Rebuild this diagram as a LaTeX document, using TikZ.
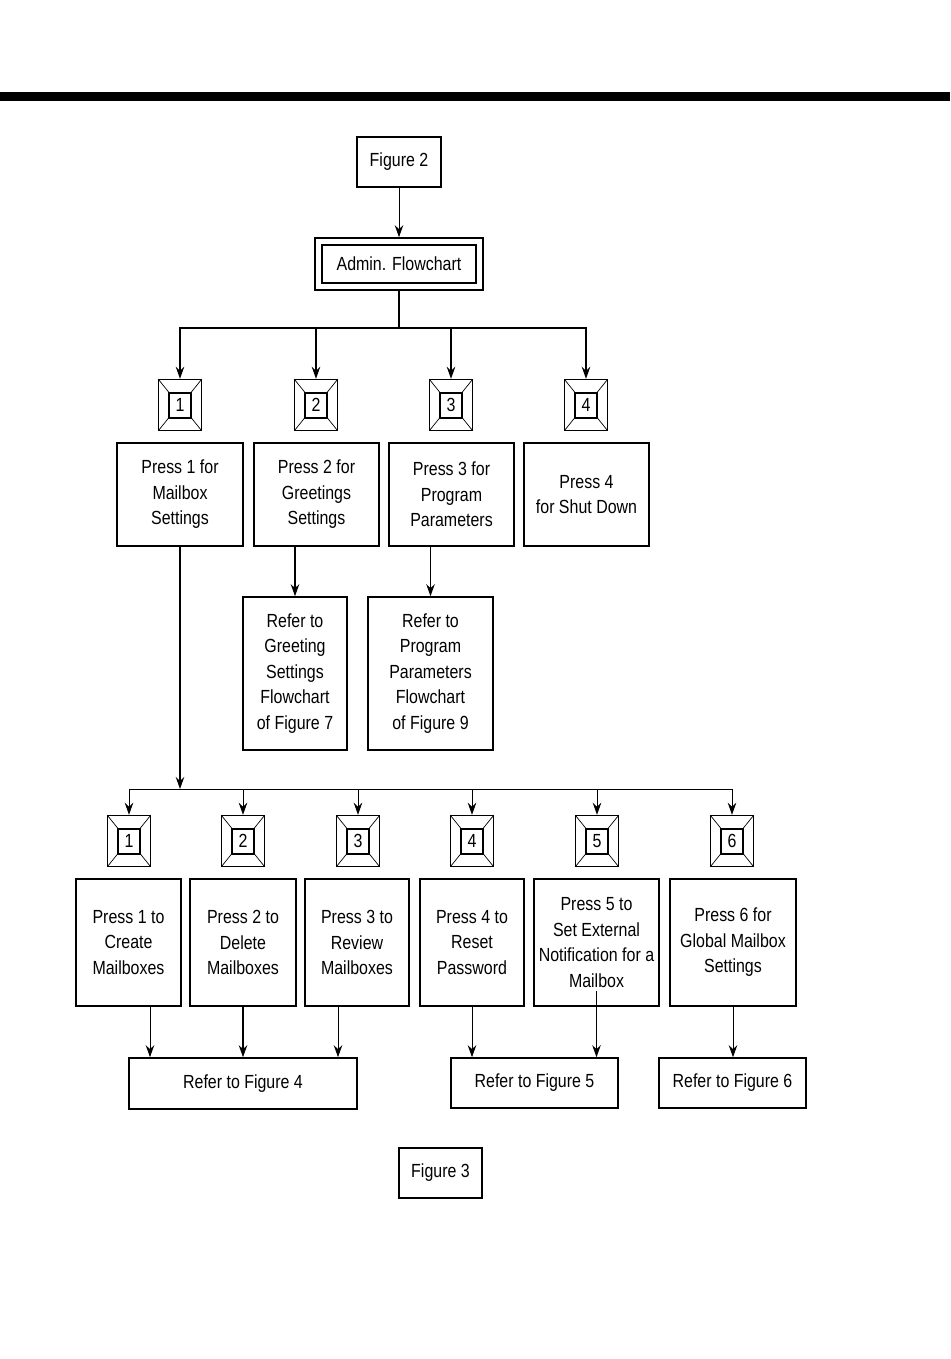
\documentclass[tikz,border=0pt]{standalone}
\usepackage{fontspec}
\setmainfont[FakeStretch=0.84]{Liberation Sans}
\usetikzlibrary{arrows.meta,positioning,calc}

\begin{document}
\begin{tikzpicture}[
    x=1pt, y=-1pt,
    box/.style={draw, line width=1.6pt, inner sep=0pt, align=center,
      font=\fontsize{19}{25.5}\selectfont},
    keybox/.style={draw, line width=1.4pt, minimum width=43pt, minimum height=51pt,
      inner sep=0pt, font=\fontsize{19}{22}\selectfont,
      path picture={
        \draw[line width=2pt] ([shift={(-11pt,-12.5pt)}]path picture bounding box.center)
          rectangle ([shift={(11pt,12.5pt)}]path picture bounding box.center);
        \foreach \sx/\sy in {1/1,1/-1,-1/1,-1/-1}
          \draw[line width=0.7pt] ([shift={(\sx*21.5pt,\sy*25.5pt)}]path picture bounding box.center)
            -- ([shift={(\sx*11pt,\sy*12.5pt)}]path picture bounding box.center);
      }},
    link/.style={line width=1.4pt},
    >={Stealth[length=12pt,width=8.5pt]}
  ]
  \useasboundingbox (0,0) rectangle (950,1359);
  \fill (0,92) rectangle (950,101);

  % Top of the chart
  \node[box, minimum width=84pt, minimum height=50pt] (fig2) at (399,162) {Figure 2};
  \node[box, minimum width=168pt, minimum height=52pt] (admin) at (399,264) {};
  \node[box, minimum width=154pt, minimum height=38pt] (admin-in) at (admin) {Admin. Flowchart};
  \draw[->, line width=1pt] (fig2) -- (admin);
  \coordinate (top) at (399,328);
  \draw[link] (admin) -- (top);

  % Main menu keys
  \node[keybox] (k1) at (180,405) {1};
  \node[keybox] (k2) at (316,405) {2};
  \node[keybox] (k3) at (451,405) {3};
  \node[keybox] (k4) at (586,405) {4};
  \foreach \k in {k1,k2,k3,k4}
    \draw[link, ->] (top) -| (\k);

  \node[box, minimum width=126pt, minimum height=103pt] (p1) at (180,494.5) {Press 1 for\\Mailbox\\Settings};
  \node[box, minimum width=125pt, minimum height=103pt] (p2) at (316.5,494.5) {Press 2 for\\Greetings\\Settings};
  \node[box, minimum width=125pt, minimum height=103pt] (p3) at (451.5,494.5) {Press 3 for\\Program\\Parameters};
  \node[box, minimum width=125pt, minimum height=103pt] (p4) at (586.5,494.5) {Press 4\\for Shut Down};

  \node[box, minimum width=104pt, minimum height=153pt] (rg) at (295,673.5) {Refer to\\Greeting\\Settings\\Flowchart\\of Figure 7};
  \node[box, minimum width=125pt, minimum height=153pt] (rp) at (430.5,673.5) {Refer to\\Program\\Parameters\\Flowchart\\of Figure 9};
  \draw[link, ->] (p2.south -| rg) -- (rg);
  \draw[link, ->] (p3.south -| rp) -- (rp);

  % Mailbox settings menu
  \coordinate (j) at (180,789);
  \draw[link, ->] (p1) -- (j);
  \node[keybox] (m1) at (129,841) {1};
  \node[keybox] (m2) at (243,841) {2};
  \node[keybox] (m3) at (358,841) {3};
  \node[keybox] (m4) at (472,841) {4};
  \node[keybox] (m5) at (597,841) {5};
  \node[keybox] (m6) at (732,841) {6};
  \foreach \m in {m1,m2,m3,m4,m5,m6}
    \draw[line width=1pt, ->] (j) -| (\m);

  \node[box, minimum width=105pt, minimum height=127pt] (b1) at (128.5,942.5) {Press 1 to\\Create\\Mailboxes};
  \node[box, minimum width=106pt, minimum height=127pt] (b2) at (243,942.5) {Press 2 to\\Delete\\Mailboxes};
  \node[box, minimum width=104pt, minimum height=127pt] (b3) at (357,942.5) {Press 3 to\\Review\\Mailboxes};
  \node[box, minimum width=104pt, minimum height=127pt] (b4) at (472,942.5) {Press 4 to\\Reset\\Password};
  \node[box, minimum width=125pt, minimum height=127pt] (b5) at (596.5,942.5) {Press 5 to\\Set External\\Notification for a\\Mailbox};
  \node[box, minimum width=126pt, minimum height=127pt] (b6) at (733,942.5) {Press 6 for\\Global Mailbox\\Settings};

  \node[box, minimum width=228pt, minimum height=51pt] (r4) at (243,1083.5) {Refer to Figure 4};
  \node[box, minimum width=167pt, minimum height=50pt] (r5) at (534.5,1083) {Refer to Figure 5};
  \node[box, minimum width=147pt, minimum height=50pt] (r6) at (732.5,1083) {Refer to Figure 6};

  \draw[line width=1pt, ->] ([xshift=21.5pt]b1.south) -- ([xshift=21.5pt]b1.south |- r4.north);
  \draw[link, ->] (b2) -- (r4);
  \draw[line width=1pt, ->] ([xshift=-19pt]b3.south) -- ([xshift=-19pt]b3.south |- r4.north);
  \draw[line width=1pt, ->] (b4.south) -- (b4.south |- r5.north);
  \draw[line width=1pt, ->] ([yshift=16pt]b5.south) -- (b5.south |- r5.north);
  \draw[line width=1pt, ->] (b6.south) -- (b6.south |- r6.north);

  \node[box, minimum width=83pt, minimum height=50pt] (fig3) at (440.5,1173) {Figure 3};
\end{tikzpicture}
\end{document}
